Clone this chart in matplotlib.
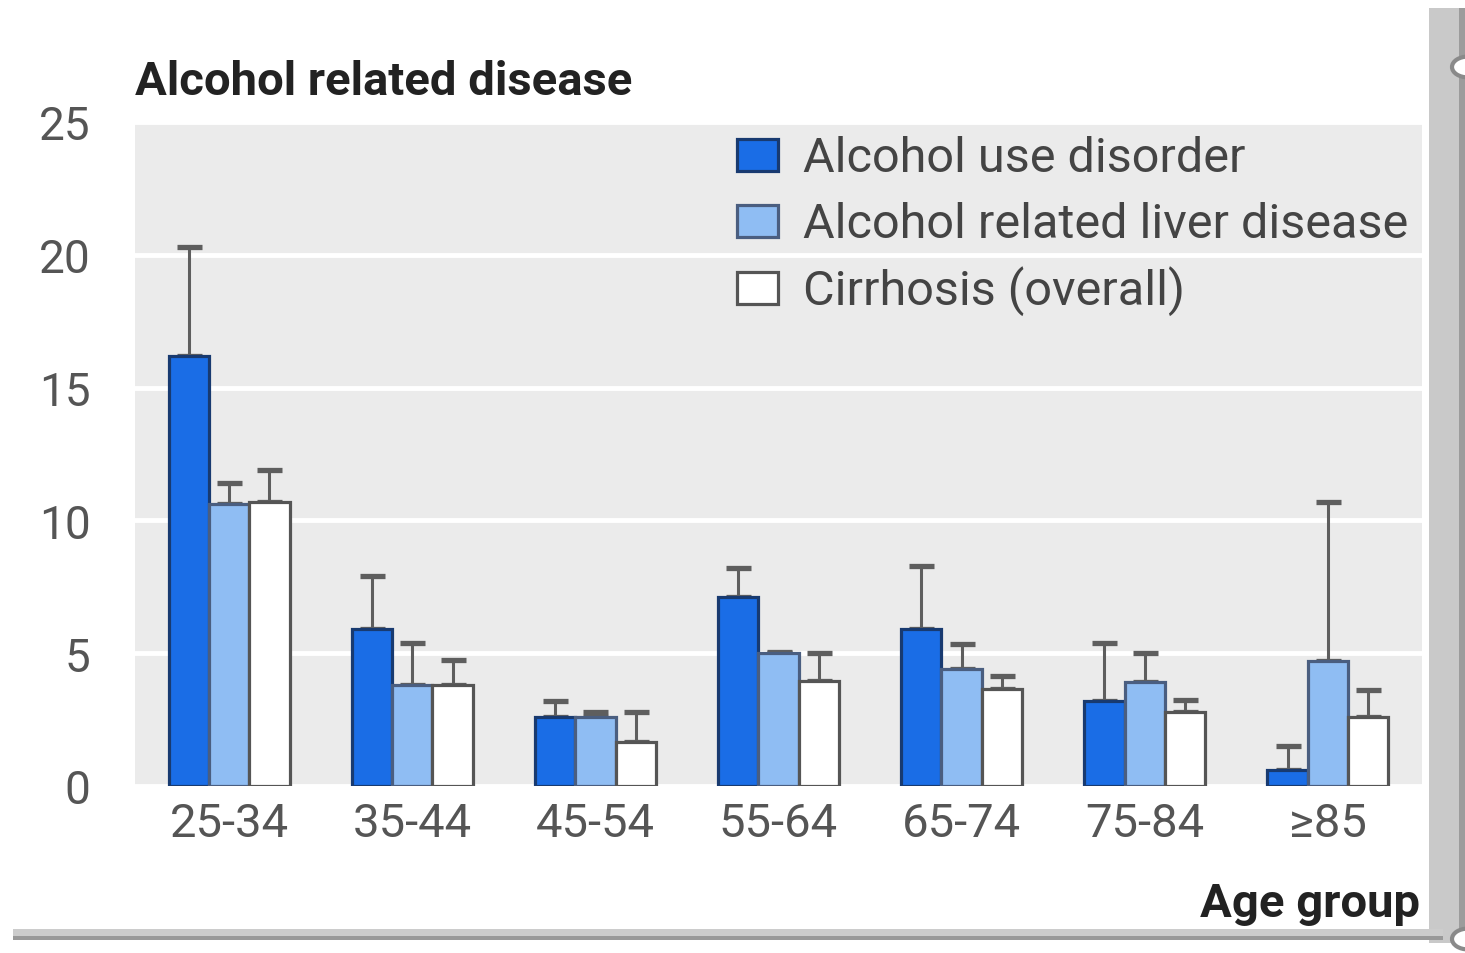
import matplotlib
matplotlib.use("Agg")
import matplotlib.pyplot as plt
from matplotlib.patches import Rectangle, Circle
from matplotlib import font_manager
import numpy as np

# Data: prevalence estimates with upper confidence limits by age group
age_groups = ["25-34", "35-44", "45-54", "55-64", "65-74", "75-84", "\u226585"]
aud = [16.2, 5.9, 2.6, 7.1, 5.9, 3.2, 0.6]
aud_upper = [20.3, 7.9, 3.2, 8.2, 8.3, 5.4, 1.5]
arld = [10.6, 3.8, 2.6, 5.0, 4.4, 3.9, 4.7]
arld_upper = [11.4, 5.4, 2.8, 5.05, 5.35, 5.0, 10.7]
cirr = [10.7, 3.8, 1.65, 3.95, 3.65, 2.8, 2.6]
cirr_upper = [11.9, 4.75, 2.8, 5.0, 4.15, 3.25, 3.6]
series_labels = ["Alcohol use disorder", "Alcohol related liver disease", "Cirrhosis (overall)"]
y_ticks = [0, 5, 10, 15, 20, 25]

available = {f.name for f in font_manager.fontManager.ttflist}
family = "Liberation Sans Narrow" if "Liberation Sans Narrow" in available else "Roboto"
plt.rcParams["font.family"] = [family, "DejaVu Sans"]

W, H = 1465, 954
fig = plt.figure(figsize=(W / 100, H / 100), dpi=100)
fig.patch.set_facecolor("white")
ax = fig.add_axes([135 / W, 1 - 787 / H, (1422 - 135) / W, (787 - 123) / H])
ax.set_facecolor("#ebebeb")

fills = ["#1a6de6", "#8fbdf3", "#ffffff"]
edges = ["#183a70", "#4a5e80", "#555555"]
width = 0.22
x = np.arange(len(age_groups))
for i, (vals, upp) in enumerate([(aud, aud_upper), (arld, arld_upper), (cirr, cirr_upper)]):
    pos = x + (i - 1) * width
    vals = np.array(vals)
    upp = np.array(upp)
    ax.errorbar(pos, vals, yerr=[np.zeros_like(vals), upp - vals], fmt="none",
                ecolor="#5e5e5e", elinewidth=2.2, capsize=9, capthick=3.8, zorder=2)
    ax.bar(pos, vals, width=width, color=fills[i], edgecolor=edges[i],
           linewidth=2.3, zorder=3)

ax.set_xlim(-0.514, 6.514)
ax.set_ylim(0, 25)
ax.set_yticks(y_ticks)
ax.set_xticks(x)
ax.set_xticklabels(age_groups)
ax.yaxis.grid(True, color="white", linewidth=3.5)
ax.set_axisbelow(True)
for s in ax.spines.values():
    s.set_visible(False)
ax.tick_params(axis="both", length=0, labelsize=34, labelcolor="#555555")
ax.tick_params(axis="y", pad=32)
ax.tick_params(axis="x", pad=11)
for lbl in ax.get_yticklabels():
    lbl.set_fontsize(33)

fig.text(135 / W, 1 - 95 / H, "Alcohol related disease", fontsize=34, fontweight="bold",
         color="#222222", ha="left", va="baseline")
fig.text(1420 / W, 1 - 917 / H, "Age group", fontsize=34, fontweight="bold",
         color="#222222", ha="right", va="baseline")

# legend drawn as swatches plus labels
legend_baselines = [172, 238, 305]
for i, lab in enumerate(series_labels):
    yb = legend_baselines[i]
    fig.add_artist(Rectangle((737 / W, 1 - yb / H), 41 / W, 32 / H, transform=fig.transFigure,
                             facecolor=fills[i], edgecolor=edges[i], linewidth=2.3))
    fig.text(803 / W, 1 - yb / H, lab, fontsize=35, color="#444444",
             ha="left", va="baseline")

# window frame around the figure
def fpx(x0, y0, w, h, **kw):
    fig.add_artist(Rectangle((x0 / W, 1 - (y0 + h) / H), w / W, h / H,
                             transform=fig.transFigure, **kw))

fpx(1429, 9, 36, 935, facecolor="#c9c9c9", edgecolor="none")
fpx(1459, 9, 6, 935, facecolor="#9c9c9c", edgecolor="none")
fpx(13, 930, 1430, 7, facecolor="#cccccc", edgecolor="none")
fpx(13, 937, 1430, 4, facecolor="#999999", edgecolor="none")
for cy in (68, 940):
    fig.add_artist(Circle((1468 / W, 1 - cy / H), 16 / W, transform=fig.transFigure,
                          facecolor="white", edgecolor="#8a8a8a", linewidth=3))

fig.savefig("out.png", dpi=100)
